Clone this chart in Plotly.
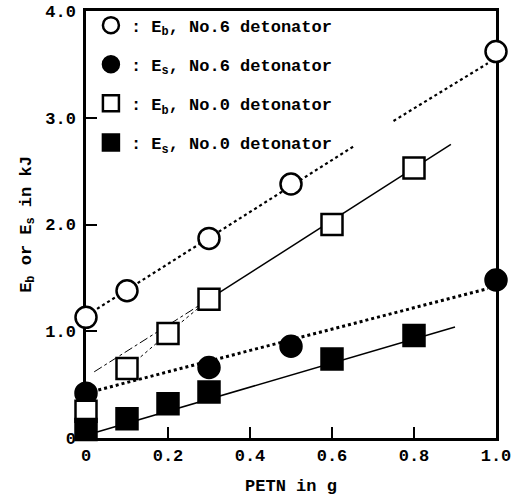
import plotly.graph_objects as go

# ---- data ----
petn_eb6 = [0.0, 0.1, 0.3, 0.5, 1.0]
eb6 = [1.13, 1.38, 1.87, 2.38, 3.62]

petn_es6 = [0.0, 0.3, 0.5, 1.0]
es6 = [0.42, 0.66, 0.86, 1.48]

petn_eb0 = [0.0, 0.1, 0.2, 0.3, 0.6, 0.8]
eb0 = [0.25, 0.65, 0.98, 1.30, 2.00, 2.53]

petn_es0 = [0.0, 0.1, 0.2, 0.3, 0.6, 0.8]
es0 = [0.08, 0.18, 0.32, 0.43, 0.74, 0.96]

# fitted lines (end points; gap where legend sits)
fit_eb6_x = [0.027, 0.656, None, 0.75, 0.98]
fit_eb6_y = [1.21, 2.74, None, 2.97, 3.51]
fit_es6_x = [0.03, 0.98]
fit_es6_y = [0.45, 1.40]
fit_eb0_lo_x = [0.02, 0.30]
fit_eb0_lo_y = [0.62, 1.30]
fit_eb0_hi_x = [0.30, 0.89]
fit_eb0_hi_y = [1.30, 2.75]
fit_es0_x = [0.027, 0.90]
fit_es0_y = [0.056, 1.04]

x_tickvals = [0, 0.2, 0.4, 0.6, 0.8, 1.0]
x_ticktext = ["0", "0.2", "0.4", "0.6", "0.8", "1.0"]
y_tickvals = [0, 1, 2, 3, 4]
y_ticktext = ["0", "1.0", "2.0", "3.0", "4.0"]

labels = [
    ": E<sub>b</sub>, No.6 detonator",
    ": E<sub>s</sub>, No.6 detonator",
    ": E<sub>b</sub>, No.0 detonator",
    ": E<sub>s</sub>, No.0 detonator",
]

FONT = "Liberation Mono"
fig = go.Figure()

def line(x, y, dash, width):
    fig.add_trace(go.Scatter(x=x, y=y, mode="lines", showlegend=False,
                             line=dict(color="black", dash=dash, width=width),
                             hoverinfo="skip", cliponaxis=False))

line(fit_eb6_x, fit_eb6_y, "dot", 2.2)
line(fit_es6_x, fit_es6_y, "dot", 3)
line(fit_eb0_lo_x, fit_eb0_lo_y, "dashdot", 1)
line(fit_eb0_hi_x, fit_eb0_hi_y, "solid", 1.5)
line(petn_eb0[1:4], eb0[1:4], "dot", 1)
line(fit_es0_x, fit_es0_y, "solid", 1.5)

def pts(x, y, symbol, fill, name, grp):
    fig.add_trace(go.Scatter(
        x=x, y=y, mode="markers", name=name, legendgroup=grp,
        marker=dict(symbol=symbol, size=21, color=fill,
                    line=dict(color="black", width=2.5)),
        cliponaxis=False))

pts(petn_eb6, eb6, "circle", "white", labels[0], "a")
pts(petn_es6, es6, "circle", "black", labels[1], "b")
pts(petn_eb0, eb0, "square", "white", labels[2], "c")
pts(petn_es0, es0, "square", "black", labels[3], "d")

axis_common = dict(showline=True, linecolor="black", linewidth=2.5, mirror=True,
                   ticks="inside", tickcolor="black", tickwidth=2, ticklen=11,
                   showgrid=False, zeroline=False, layer="below traces",
                   automargin=False,
                   tickfont=dict(family=FONT, size=17, color="black", weight="bold"))

fig.update_layout(
    width=515, height=500,
    margin=dict(l=86, r=19, t=8, b=62),
    paper_bgcolor="white", plot_bgcolor="white",
    font=dict(family=FONT, size=17, color="black", weight="bold"),
    xaxis=dict(range=[0, 1.0], tickvals=x_tickvals, ticktext=x_ticktext,
               title=dict(text="PETN in g", standoff=14,
                          font=dict(family=FONT, size=17, weight="bold")),
               **axis_common),
    yaxis=dict(range=[0, 4.0], tickvals=y_tickvals, ticktext=y_ticktext,
               ticklabelstandoff=4,
               title=dict(text="E<sub>b</sub> or E<sub>s</sub> in kJ", standoff=10,
                          font=dict(family=FONT, size=17, weight="bold")),
               **axis_common),
    legend=dict(x=0.012, y=1.008, xanchor="left", yanchor="top",
                bgcolor="rgba(0,0,0,0)", tracegroupgap=14, traceorder="grouped",
                font=dict(family=FONT, size=17, color="black", weight="bold"),
                itemsizing="trace"),
    showlegend=True,
)

fig.write_html("out.html", config={"displayModeBar": False},
               post_script="document.body.style.margin='0px';")
